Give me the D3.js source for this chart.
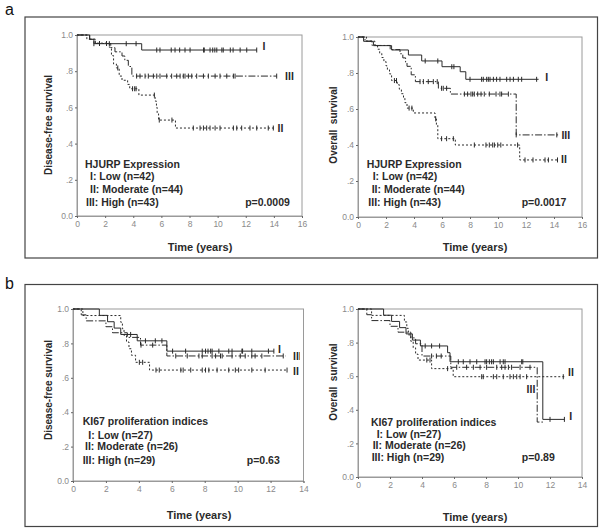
<!DOCTYPE html>
<html><head><meta charset="utf-8">
<script src="https://cdn.jsdelivr.net/npm/d3@7"></script>
<style>body{margin:0;background:#fff}</style>
</head><body><svg id="c" width="600" height="529"></svg>
<script>
// ---------- DATA ----------
const curveLabels = ["I", "II", "III"];
const yTickValues = [0, 0.2, 0.4, 0.6, 0.8, 1.0];
const xTicksA = [0, 2, 4, 6, 8, 10, 12, 14, 16];
const xTicksB = [0, 2, 4, 6, 8, 10, 12, 14];
const panelLetters = ["a", "b"];
const xTitle = "Time (years)";
const yTitles = ["Disease-free survival", "Overall  survival"];
const legendA = ["HJURP Expression", "I: Low (n=42)", "II: Moderate (n=44)", "III: High (n=43)"];
const legendB = ["KI67 proliferation indices", "I: Low (n=27)", "II: Moderate (n=26)", "III: High (n=29)"];
const pValues = ["p=0.0009", "p=0.0017", "p=0.63", "p=0.89"];

// a-left: disease-free survival, HJURP
const dfsHjurpLow = [[0,1],[0.9,0.976],[1.2,0.952],[4.6,0.917],[12.8,0.917]];
const dfsHjurpLowCensor = [1.2,2.3,3.5,4.2,5.67,5.9,6.7,6.97,7.3,7.68,8.04,9.0,9.05,9.46,9.65,9.8,9.94,10.3,10.4,10.9,11.1,11.6,12.07,12.78];
const dfsHjurpMod = [[0,1],[0.7,0.977],[1.3,0.955],[2.3,0.932],[2.45,0.886],[2.6,0.84],[2.8,0.818],[3.0,0.773],[3.2,0.75],[3.6,0.727],[3.75,0.703],[4.4,0.668],[5.55,0.635],[5.65,0.6],[5.7,0.565],[5.8,0.53],[7.0,0.486],[14.0,0.486]];
const dfsHjurpModCensor = [2.9,3.95,4.1,4.2,5.5,5.85,6.75,8.27,8.75,8.99,9.22,9.46,9.82,10.17,11.12,11.36,11.71,12.3,12.78,13.6,13.96];
const dfsHjurpHigh = [[0,1],[0.9,0.977],[1.3,0.953],[2.4,0.93],[2.7,0.907],[3.2,0.884],[3.4,0.86],[3.65,0.826],[3.9,0.773],[14.2,0.773]];
const dfsHjurpHighCensor = [1.6,2.1,4.24,4.48,4.84,5.07,5.43,5.67,5.9,6.38,6.73,7.09,7.33,7.56,7.68,7.92,8.16,8.51,8.99,9.34,9.82,10.17,10.65,11.12,11.24,14.2];

// a-right: overall survival, HJURP
const osHjurpLow = [[0,1],[0.4,0.976],[1.1,0.952],[2.4,0.928],[3.6,0.9],[4.55,0.867],[6.0,0.835],[7.3,0.807],[7.7,0.765],[12.9,0.765]];
const osHjurpLowCensor = [4.8,5.7,6.7,6.85,8.0,8.83,8.95,9.19,9.31,9.43,9.67,9.9,10.14,10.62,10.86,11.1,11.45,11.69,12.76];
const osHjurpMod = [[0,1],[0.6,0.977],[1.2,0.955],[1.4,0.932],[1.55,0.909],[1.7,0.886],[1.85,0.864],[2.0,0.84],[2.1,0.818],[2.25,0.795],[2.4,0.758],[2.8,0.735],[2.95,0.71],[3.1,0.685],[3.25,0.66],[3.35,0.635],[3.5,0.605],[3.95,0.578],[5.5,0.545],[5.6,0.51],[5.7,0.435],[6.95,0.4],[11.55,0.317],[14.25,0.317]];
const osHjurpModCensor = [2.6,2.75,3.65,3.85,5.55,5.97,6.33,6.81,8.31,9.14,9.38,9.62,9.74,9.98,10.2,11.4,11.93,12.5,13.36,13.6,14.25];
const osHjurpHigh = [[0,1],[0.5,0.977],[1.0,0.953],[2.3,0.93],[3.0,0.907],[3.2,0.884],[3.4,0.86],[3.5,0.837],[3.8,0.79],[4.1,0.752],[5.74,0.715],[6.6,0.683],[11.3,0.456],[14.3,0.456]];
const osHjurpHighCensor = [4.43,4.67,5.02,5.38,5.66,5.97,6.09,6.33,7.6,7.83,8.07,8.19,8.31,8.55,8.79,9.02,9.38,9.86,10.14,10.26,10.74,11.3,14.2];

// b-left: disease-free survival, KI67
const dfsKiLow = [[0,1],[1.6,0.963],[2.1,0.926],[2.5,0.889],[2.9,0.852],[3.9,0.815],[5.7,0.755],[12.2,0.755]];
const dfsKiLowCensor = [3.5,4.4,5.0,5.4,6.05,6.84,7.85,8.05,8.2,8.36,8.45,8.86,9.46,9.66,10.26,10.3,10.86,11.87,12.2];
const dfsKiMod = [[0,1],[0.6,0.962],[2.9,0.923],[3.0,0.885],[3.1,0.846],[3.25,0.808],[3.4,0.769],[3.55,0.731],[3.8,0.69],[4.65,0.645],[13.0,0.645]];
const dfsKiModCensor = [4.03,4.23,5.04,5.24,6.55,6.69,7.15,7.85,8.05,8.25,8.75,9.46,9.86,10.06,10.86,11.67,13.0];
const dfsKiHigh = [[0,1],[0.5,0.966],[0.8,0.931],[2.0,0.897],[2.4,0.862],[3.3,0.835],[4.1,0.79],[5.7,0.727],[12.9,0.727]];
const dfsKiHighCensor = [4.13,4.84,6.24,6.94,7.65,7.85,8.45,8.66,8.96,9.06,9.66,10.16,10.46,10.86,11.06,11.47,12.77];

// b-right: overall survival, KI67
const osKiLow = [[0,1],[1.6,0.963],[2.1,0.926],[2.6,0.889],[3.0,0.852],[3.4,0.815],[3.9,0.78],[5.6,0.74],[5.75,0.686],[11.55,0.343],[12.9,0.343]];
const osKiLowCensor = [4.2,4.6,5.1,6.27,6.58,7.0,7.42,7.94,8.04,8.21,8.35,8.46,8.88,9.08,9.19,10.23,10.3,12.0,12.9];
const osKiMod = [[0,1],[0.85,0.962],[2.9,0.923],[3.05,0.885],[3.15,0.846],[3.3,0.808],[3.45,0.769],[3.6,0.731],[3.75,0.696],[4.6,0.645],[5.95,0.597],[13.0,0.597]];
const osKiModCensor = [4.3,4.5,5.6,7.73,7.83,8.46,8.67,9.08,9.5,9.71,9.92,10.13,10.54,12.83];
const osKiHigh = [[0,1],[0.55,0.966],[0.85,0.931],[2.0,0.897],[2.5,0.862],[3.3,0.828],[3.6,0.793],[4.0,0.72],[5.8,0.653],[11.2,0.327],[11.6,0.327]];
const osKiHighCensor = [4.6,4.9,5.2,6.17,6.79,7.21,7.63,8.04,8.67,8.98,9.19,9.4,9.6,10.13,10.75];

// ---------- DRAWING ----------
const FONT = "'Liberation Sans', Arial, Helvetica, sans-serif";
const svg = d3.select("#c");
const INK = "#2a2a2a", AXIS = "#9a9a9a", TICK = "#8a8a8a";
const DASH = {solid: null, dot: "2,2", dashdot: "7,2,1.5,2"};

// panel boxes
[[25, 17, 572.5, 241], [25, 284.5, 572.5, 242]].forEach(b => {
  svg.append("rect").attr("x", b[0]).attr("y", b[1]).attr("width", b[2]).attr("height", b[3])
    .attr("fill", "none").attr("stroke", "#444").attr("stroke-width", 1.2);
});
svg.append("text").attr("x", 5).attr("y", 15).text(panelLetters[0])
  .attr("font-family", FONT).attr("font-size", 16).attr("fill", "#111");
svg.append("text").attr("x", 5).attr("y", 289).text(panelLetters[1])
  .attr("font-family", FONT).attr("font-size", 16).attr("fill", "#111");

svg.append("defs").append("clipPath").attr("id", "cutB")
  .append("rect").attr("x", 0).attr("y", 280).attr("width", 300).attr("height", 250);

function stepValue(data, t) {
  let v = data[0][1];
  for (const d of data) { if (d[0] <= t + 1e-9) v = d[1]; }
  return v;
}

const plots = [
  { xr: [77, 302], yr: [216, 35], xmax: 16, ticks: xTicksA, ytitle: yTitles[0], ytx: 48, yty: 125,
    xtx: 200, xty: 251, legend: legendA,
    lpos: [[85,164.3],[90,176],[90,189.3],[86,202]], p: pValues[0], ppos: [267.5, 202],
    curves: [
      {d: dfsHjurpLow, c: dfsHjurpLowCensor, dash: "solid", lab: 0, lx: 264, ly: 46.7, anchor: "middle"},
      {d: dfsHjurpMod, c: dfsHjurpModCensor, dash: "dot", lab: 1, lx: 280.5, ly: 128.3, anchor: "middle"},
      {d: dfsHjurpHigh, c: dfsHjurpHighCensor, dash: "dashdot", lab: 2, lx: 289.5, ly: 76, anchor: "middle"}
    ]},
  { xr: [358, 582], yr: [217, 37], xmax: 16, ticks: xTicksA, ytitle: yTitles[1], ytx: 333, yty: 125,
    xtx: 475, xty: 251, legend: legendA,
    lpos: [[366.7,164.3],[372.7,176],[371.7,189.3],[368.3,202]], p: pValues[1], ppos: [544, 202],
    curves: [
      {d: osHjurpLow, c: osHjurpLowCensor, dash: "solid", lab: 0, lx: 546.7, ly: 77.3, anchor: "middle"},
      {d: osHjurpMod, c: osHjurpModCensor, dash: "dot", lab: 1, lx: 564, ly: 159.3, anchor: "middle"},
      {d: osHjurpHigh, c: osHjurpHighCensor, dash: "dashdot", lab: 2, lx: 565.8, ly: 135, anchor: "middle"}
    ]},
  { xr: [73, 303.5], yr: [481, 309], xmax: 14, ticks: xTicksB, ytitle: yTitles[0], ytx: 48, yty: 390,
    xtx: 199, xty: 519, legend: legendB, clip: true,
    lpos: [[82.7,421.7],[88.3,435],[85,446.7],[82.7,460.7]], p: pValues[2], ppos: [263.3, 460.7],
    curves: [
      {d: dfsKiLow, c: dfsKiLowCensor, dash: "solid", lab: 0, lx: 278, ly: 349.3, anchor: "start"},
      {d: dfsKiMod, c: dfsKiModCensor, dash: "dot", lab: 1, lx: 293, ly: 371.7, anchor: "start"},
      {d: dfsKiHigh, c: dfsKiHighCensor, dash: "dashdot", lab: 2, lx: 293, ly: 356, anchor: "start"}
    ]},
  { xr: [358, 582], yr: [477, 309], xmax: 14, ticks: xTicksB, ytitle: yTitles[1], ytx: 333, yty: 382,
    xtx: 475, xty: 521, legend: legendB,
    lpos: [[371,422.7],[376.7,434.3],[372.7,445.7],[371.7,457.3]], p: pValues[3], ppos: [538.3, 457.3],
    curves: [
      {d: osKiLow, c: osKiLowCensor, dash: "solid", lab: 0, lx: 570.7, ly: 416.7, anchor: "middle"},
      {d: osKiMod, c: osKiModCensor, dash: "dot", lab: 1, lx: 571, ly: 372.7, anchor: "middle"},
      {d: osKiHigh, c: osKiHighCensor, dash: "dashdot", lab: 2, lx: 531, ly: 389.3, anchor: "middle"}
    ]}
];

plots.forEach(P => {
  const x = d3.scaleLinear().domain([0, P.xmax]).range(P.xr);
  const y = d3.scaleLinear().domain([0, 1]).range(P.yr);
  const g = svg.append("g");

  g.append("rect").attr("x", P.xr[0]).attr("y", P.yr[1])
    .attr("width", P.xr[1] - P.xr[0]).attr("height", P.yr[0] - P.yr[1])
    .attr("fill", "none").attr("stroke", AXIS).attr("stroke-width", 1);

  const yAxis = d3.axisLeft(y).tickValues(yTickValues).tickSize(2).tickPadding(2)
    .tickFormat(v => v === 0 ? "0.0" : v === 1 ? "1.0" : d3.format(".1f")(v).replace(/^0/, ""));
  const ya = g.append("g").attr("transform", `translate(${P.xr[0]},0)`).call(yAxis);
  const xAxis = d3.axisBottom(x).tickValues(P.ticks).tickSize(2).tickPadding(3).tickFormat(d3.format("d"));
  const xa = g.append("g").attr("transform", `translate(0,${P.yr[0]})`).call(xAxis);
  [ya, xa].forEach(a => {
    a.select(".domain").attr("stroke", AXIS);
    a.selectAll(".tick line").attr("stroke", "#666");
    a.selectAll(".tick text").attr("fill", TICK).attr("font-family", FONT).attr("font-size", 8.5);
  });

  g.append("text").attr("transform", `translate(${P.ytx},${P.yty}) rotate(-90)`)
    .attr("text-anchor", "middle").attr("dy", "0.35em").text(P.ytitle)
    .attr("font-family", FONT).attr("font-weight", "bold").attr("font-size", 10).attr("fill", INK)
    .style("white-space", "pre");
  g.append("text").attr("x", P.xtx).attr("y", P.xty).attr("text-anchor", "middle").text(xTitle)
    .attr("font-family", FONT).attr("font-weight", "bold").attr("font-size", 11).attr("fill", INK);

  const line = d3.line().x(d => x(d[0])).y(d => y(d[1])).curve(d3.curveStepAfter);
  P.curves.forEach(C => {
    g.append("path").datum(C.d).attr("d", line).attr("fill", "none")
      .attr("stroke", INK).attr("stroke-width", 1)
      .attr("stroke-dasharray", DASH[C.dash]);
    g.selectAll(null).data(C.c).enter().append("line")
      .attr("x1", t => x(t)).attr("x2", t => x(t))
      .attr("y1", t => y(stepValue(C.d, t)) - 2.5).attr("y2", t => y(stepValue(C.d, t)) + 2.5)
      .attr("stroke", INK).attr("stroke-width", 1);
    const lt = g.append("text").attr("x", C.lx).attr("y", C.ly).attr("dy", "0.36em")
      .attr("text-anchor", C.anchor).text(curveLabels[C.lab])
      .attr("font-family", FONT).attr("font-weight", "bold").attr("font-size", 10.5).attr("fill", INK);
    if (P.clip) lt.attr("clip-path", "url(#cutB)");
  });

  P.legend.forEach((s, i) => {
    g.append("text").attr("x", P.lpos[i][0]).attr("y", P.lpos[i][1]).attr("dy", "0.36em").text(s)
      .attr("font-family", FONT).attr("font-weight", "bold").attr("font-size", 10.5).attr("fill", INK);
  });
  g.append("text").attr("x", P.ppos[0]).attr("y", P.ppos[1]).attr("dy", "0.36em")
    .attr("text-anchor", "middle").text(P.p)
    .attr("font-family", FONT).attr("font-weight", "bold").attr("font-size", 10.5).attr("fill", INK);
});
</script>
</body></html>
